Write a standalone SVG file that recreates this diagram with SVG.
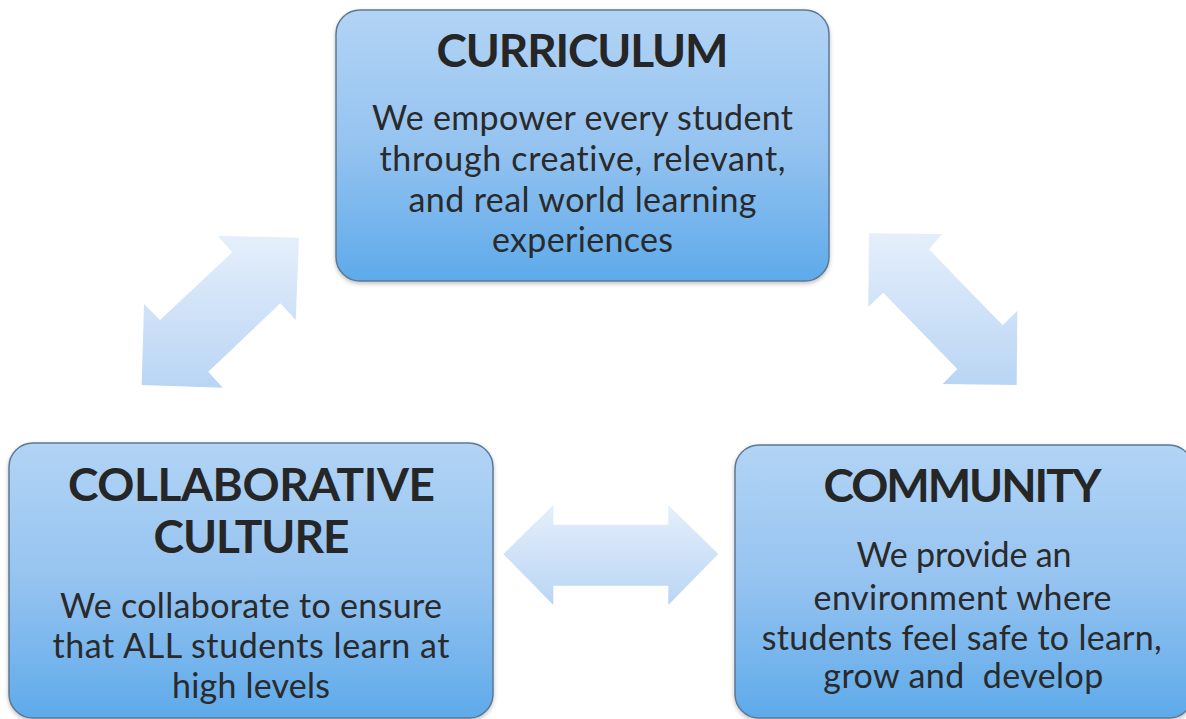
<svg xmlns="http://www.w3.org/2000/svg" width="1186" height="719" viewBox="0 0 1186 719">
<defs>
<linearGradient id="boxg" x1="0" y1="0" x2="0" y2="1">
<stop offset="0" stop-color="#b2d4f5"/>
<stop offset="0.5" stop-color="#95c3f0"/>
<stop offset="1" stop-color="#5eaaea"/>
</linearGradient>
<linearGradient id="arrg" x1="0" y1="0" x2="0" y2="1">
<stop offset="0" stop-color="#e5effb"/>
<stop offset="1" stop-color="#b9d5f4"/>
</linearGradient>
<filter id="sh" x="-5%" y="-5%" width="110%" height="115%">
<feDropShadow dx="0" dy="2" stdDeviation="2" flood-color="#000" flood-opacity="0.25"/>
</filter>
</defs>
<style>
.box{fill:url(#boxg);stroke:#5d7893;stroke-width:1.5;filter:url(#sh)}
.arr{fill:url(#arrg);stroke:none}
.t{font-family:Lato,"Open Sans","Liberation Sans",sans-serif;font-weight:bold;font-size:46px;fill:#262626;text-anchor:middle;font-variant-ligatures:none}
.b{font-family:Lato,"Open Sans","Liberation Sans",sans-serif;font-size:34px;fill:#2a2a2a;text-anchor:middle;font-variant-ligatures:none}
</style>
<rect width="1186" height="719" fill="#ffffff"/>
<g id="connectors">
<polygon class="arr" points="217.7,235.7 299,237.7 295.7,320 280.3,303.3 208.3,371.7 222.7,387.7 141.7,385 144,304 160,320 232.3,252.3"/>
<polygon class="arr" points="869,233.3 942.3,234 929,249.3 1002.7,325.3 1017.3,310.7 1016.7,385 942.7,384 957.3,369 883.3,292.7 868.3,306.7"/>
<polygon class="arr" points="503.3,554 553.3,505 553.3,524.7 668.3,524.7 668.3,505 718.3,554 668.3,605 668.3,585.7 553.3,585.7 553.3,605"/>
</g>
<g id="curriculum">
<rect class="box" x="336" y="10" width="493" height="271" rx="24"/>
<text class="t" x="582.5" y="67" textLength="292">CURRICULUM</text>
<text class="b" x="582.5" y="130" textLength="421">We empower every student</text>
<text class="b" x="582.5" y="170.5" textLength="406">through creative, relevant,</text>
<text class="b" x="582.5" y="211.5" textLength="348">and real world learning</text>
<text class="b" x="582.5" y="251.5" textLength="181">experiences</text>
</g>
<g id="collaborative-culture">
<rect class="box" x="9" y="443" width="484" height="275" rx="24"/>
<text class="t" x="251.5" y="500.5" textLength="367">COLLABORATIVE</text>
<text class="t" x="251.5" y="553" textLength="196">CULTURE</text>
<text class="b" x="251" y="617.5" textLength="382">We collaborate to ensure</text>
<text class="b" x="251" y="657.5" textLength="397">that ALL students learn at</text>
<text class="b" x="251" y="698" textLength="158">high levels</text>
</g>
<g id="community">
<rect class="box" x="735" y="445" width="458" height="273" rx="24"/>
<text class="t" x="962.5" y="501.5" textLength="278">COMMUNITY</text>
<text class="b" x="964" y="566.5" textLength="215">We provide an</text>
<text class="b" x="962.5" y="610" textLength="298">environment where</text>
<text class="b" x="961.7" y="650" textLength="400">students feel safe to learn,</text>
<text class="b" x="963.3" y="688" textLength="280" xml:space="preserve">grow and  develop</text>
</g>
</svg>
